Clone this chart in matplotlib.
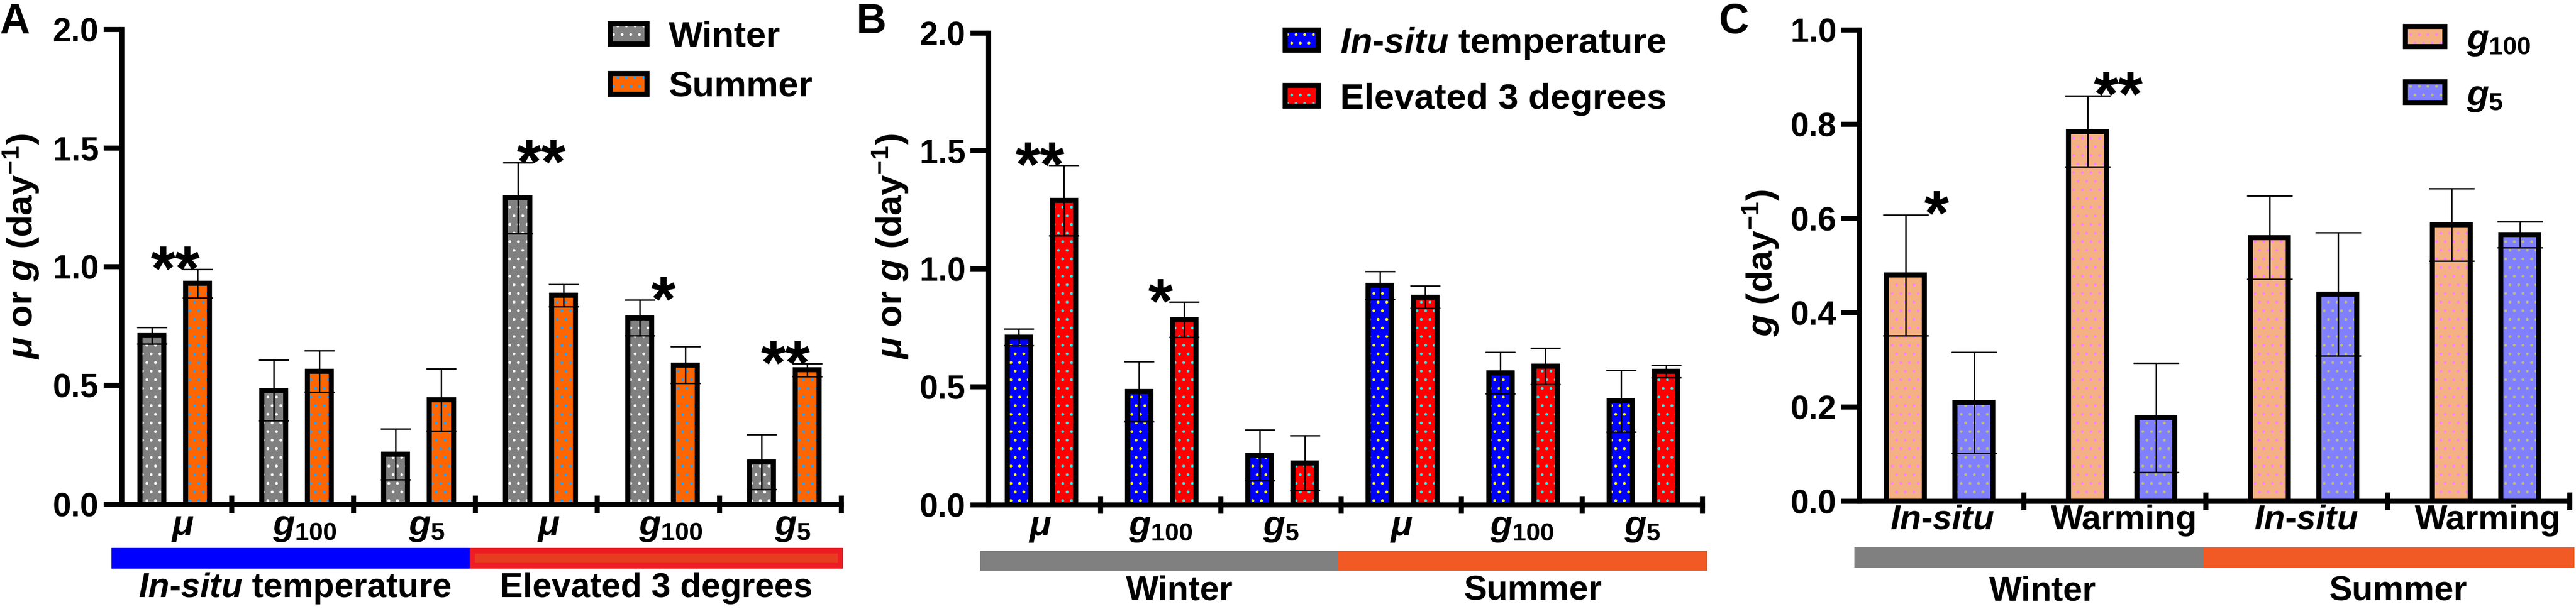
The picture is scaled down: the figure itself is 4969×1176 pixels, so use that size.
import numpy as np
import matplotlib
matplotlib.use('Agg')
import matplotlib.pyplot as plt
from matplotlib.patches import Patch, Rectangle

plt.rcParams['font.family'] = ['Liberation Sans', 'DejaVu Sans']
plt.rcParams['font.weight'] = 'bold'
plt.rcParams['mathtext.fontset'] = 'custom'
plt.rcParams['mathtext.rm'] = 'Liberation Sans:bold'
plt.rcParams['mathtext.it'] = 'Liberation Sans:italic:bold'
plt.rcParams['mathtext.bf'] = 'Liberation Sans:bold'
plt.rcParams['hatch.linewidth'] = 1.5

# growth (mu) and grazing (g100, g5) rates, day^-1, mean and error
rate_names = [r'$\mu$', r'$g_{100}$', r'$g_5$']
winter_insitu = [0.71, 0.48, 0.21]
winter_insitu_err = [0.035, 0.128, 0.107]
summer_insitu = [0.93, 0.56, 0.44]
summer_insitu_err = [0.06, 0.088, 0.131]
winter_warm = [1.29, 0.785, 0.178]
winter_warm_err = [0.15, 0.075, 0.116]
summer_warm = [0.88, 0.587, 0.566]
summer_warm_err = [0.047, 0.077, 0.027]

season_names = ['Winter', 'Summer']
temp_names = [r'$In$-$situ$ temperature', 'Elevated 3 degrees']
treat_ticks = ['In-situ', 'Warming']
graze_names = [r'$g_{100}$', r'$g_5$']

# significance marks: (group index, label)
stars_a = [(0, '**'), (3, '**'), (4, '*'), (5, '**')]
stars_b = [(0, '**'), (1, '*')]
stars_c = [(0, '*'), (1, '**')]

W, H = 4969, 1176
fig = plt.figure(figsize=(W / 100, H / 100), dpi=100)


def make_axes(left, right, top, bottom):
    return fig.add_axes([left / W, 1 - bottom / H, (right - left) / W, (bottom - top) / H])


def draw_series(ax, x, vals, errs, face, dot, width, cap):
    ax.bar(x, vals, width, color=face, edgecolor=dot, hatch='.', linewidth=0, zorder=2)
    ax.bar(x, vals, width, fill=False, edgecolor='black', linewidth=7, zorder=3)
    ax.errorbar(x, vals, yerr=errs, fmt='none', ecolor='black', elinewidth=2,
                capsize=cap, capthick=2, zorder=4)


def style(ax, ngroups, xleft, ymax, ystep, ticklabels, tickshift, ticksize, tickpad, italic=False):
    ax.set_xlim(xleft, ngroups - 0.5)
    ax.set_ylim(0, ymax)
    for s in ['top', 'right']:
        ax.spines[s].set_visible(False)
    for s in ['left', 'bottom']:
        ax.spines[s].set_linewidth(7)
    ax.set_yticks(np.arange(0, ymax + 1e-9, ystep))
    ax.yaxis.set_major_formatter(matplotlib.ticker.FormatStrFormatter('%.1f'))
    ax.tick_params(axis='y', direction='out', length=25, width=7, labelsize=46, pad=7)
    ax.set_xticks(np.arange(ngroups) + tickshift)
    ax.set_xticklabels(ticklabels, fontsize=ticksize, fontstyle='italic' if italic else 'normal')
    ax.set_xticks(np.arange(ngroups + 1) - 0.5 if False else np.arange(ngroups) + 0.5, minor=True)
    ax.tick_params(axis='x', which='major', length=0, pad=tickpad)
    ax.tick_params(axis='x', which='minor', direction='inout', length=24, width=7)


def group_bars(ax, segs, y0, y1):
    tr = ax.get_xaxis_transform()
    for x0, x1, color, edge in segs:
        if edge is None:
            ax.add_patch(Rectangle((x0, y1), x1 - x0, y0 - y1, transform=tr, clip_on=False,
                                   facecolor=color, edgecolor='none'))
        else:
            ax.add_patch(Rectangle((x0, y1), x1 - x0, y0 - y1, transform=tr, clip_on=False,
                                   facecolor=edge, edgecolor='none'))
            dx = 0.042
            dy = 0.012
            ax.add_patch(Rectangle((x0 + dx, y1 + dy), x1 - x0 - 2 * dx, y0 - y1 - 2 * dy,
                                   transform=tr, clip_on=False, facecolor=color, edgecolor='none'))


def group_text(ax, items, y):
    tr = ax.get_xaxis_transform()
    for x, label in items:
        ax.text(x, y, label, transform=tr, ha='center', va='baseline', fontsize=48)


def add_stars(ax, stars, tops, dx):
    for g, lab in stars:
        ax.annotate(lab, xy=(g + dx, max(t[g] for t in tops) + 0.005), xytext=(0, -30),
                    textcoords='offset points', ha='center', va='baseline', fontsize=88)


def add_legend(ax, faces, dots, labels, x, y, hl, hh, spacing):
    handles = [(Patch(facecolor=f, edgecolor=d, hatch='.', linewidth=0),
                Patch(facecolor='none', edgecolor='black', linewidth=7))
               for f, d in zip(faces, dots)]
    ax.legend(handles, labels, loc='upper left', bbox_to_anchor=(x / W, 1 - y / H),
              bbox_transform=fig.transFigure, frameon=False, fontsize=50,
              handlelength=hl, handleheight=hh, handletextpad=0.6,
              labelspacing=spacing, borderpad=0, borderaxespad=0)


def tops_of(vals, errs):
    return [v + e for v, e in zip(vals, errs)]


# ---------------- A: winter vs summer ----------------
axA = make_axes(235, 1623, 56.8, 973.6)
xa = np.arange(6)
a_w = winter_insitu + winter_warm
a_we = winter_insitu_err + winter_warm_err
a_s = summer_insitu + summer_insitu_err[:0] + summer_warm
a_se = summer_insitu_err + summer_warm_err
draw_series(axA, xa - 0.154, a_w, a_we, '#808080', 'white', 0.196, 21)
draw_series(axA, xa + 0.221, a_s, a_se, '#FF6600', '#2A9DF4', 0.196, 21)
style(axA, 6, -0.399, 2.0, 0.5, rate_names * 2, 0.1, 50, 8)
group_bars(axA, [(-0.484, 2.453, '#0000FF', None), (2.453, 5.513, '#E53D1E', '#EE1D23')],
           -0.092, -0.136)
group_text(axA, [(1.02, temp_names[0]), (3.98, temp_names[1])], -0.196)
add_stars(axA, stars_a, [tops_of(a_w, a_we), tops_of(a_s, a_se)], 0.04)
add_legend(axA, ['#808080', '#FF6600'], ['white', '#2A9DF4'], season_names,
           1177, 40, 1.02, 0.5, 0.47)

# ---------------- B: in-situ vs elevated ----------------
axB = make_axes(1907, 3284, 63.6, 974.8)
xb = np.arange(6)
b_i = winter_insitu + summer_insitu
b_ie = winter_insitu_err + summer_insitu_err
b_e = winter_warm + summer_warm
b_ee = winter_warm_err + summer_warm_err
draw_series(axB, xb - 0.178, b_i, b_ie, '#0000FF', '#FFFF00', 0.194, 21)
draw_series(axB, xb + 0.197, b_e, b_ee, '#FF0000', '#33E6E6', 0.194, 21)
style(axB, 6, -0.428, 2.0, 0.5, rate_names * 2, 0.0, 50, 8)
group_bars(axB, [(-0.497, 2.474, '#808080', None), (2.474, 5.539, '#F15A24', None)],
           -0.0975, -0.1396)
group_text(axB, [(1.155, season_names[0]), (4.09, season_names[1])], -0.202)
add_stars(axB, stars_b, [tops_of(b_i, b_ie), tops_of(b_e, b_ee)], 0.0)
add_legend(axB, ['#0000FF', '#FF0000'], ['#FFFF00', '#33E6E6'], temp_names,
           2479, 50, 0.92, 0.5, 0.6)

# ---------------- C: g100 vs g5 ----------------
axC = make_axes(3587, 4957, 58, 968.3)
xc = np.arange(4)
c_100 = [winter_insitu[1], winter_warm[1], summer_insitu[1], summer_warm[1]]
c_100e = [winter_insitu_err[1], winter_warm_err[1], summer_insitu_err[1], summer_warm_err[1]]
c_5 = [winter_insitu[2], winter_warm[2], summer_insitu[2], summer_warm[2]]
c_5e = [winter_insitu_err[2], winter_warm_err[2], summer_insitu_err[2], summer_warm_err[2]]
draw_series(axC, xc - 0.15, c_100, c_100e, '#F4B183', '#FF80FF', 0.208, 32)
draw_series(axC, xc + 0.226, c_5, c_5e, '#8080FF', '#BDBD80', 0.208, 32)
c_ticks = [r'$In$-$situ$', 'Warming', r'$In$-$situ$', 'Warming']
style(axC, 4, -0.403, 1.0, 0.2, c_ticks, 0.05, 48, 4)
group_bars(axC, [(-0.432, 1.486, '#808080', None), (1.486, 3.526, '#F15A24', None)],
           -0.0974, -0.1408)
group_text(axC, [(0.602, season_names[0]), (2.554, season_names[1])], -0.2095)
add_stars(axC, stars_c, [tops_of(c_100, c_100e), tops_of(c_5, c_5e)], 0.02)
add_legend(axC, ['#F4B183', '#8080FF'], ['#FF80FF', '#BDBD80'], graze_names,
           4640, 45, 1.1, 0.5, 0.6)

# axis titles and panel letters
ylab = r'$\mu$ or $g$ (day$^{-1}$)'
fig.text(41 / W, 1 - 476 / H, ylab, rotation=90, ha='center', va='center', fontsize=50)
fig.text(1718 / W, 1 - 476 / H, ylab, rotation=90, ha='center', va='center', fontsize=50)
fig.text(3397 / W, 1 - 508 / H, r'$g$ (day$^{-1}$)', rotation=90, ha='center', va='center',
         fontsize=50)
for x, lab in [(0, 'A'), (1652, 'B'), (3316, 'C')]:
    fig.text(x / W, 1 - 64 / H, lab, ha='left', va='baseline', fontsize=58)

fig.savefig('out.png', dpi=100)
